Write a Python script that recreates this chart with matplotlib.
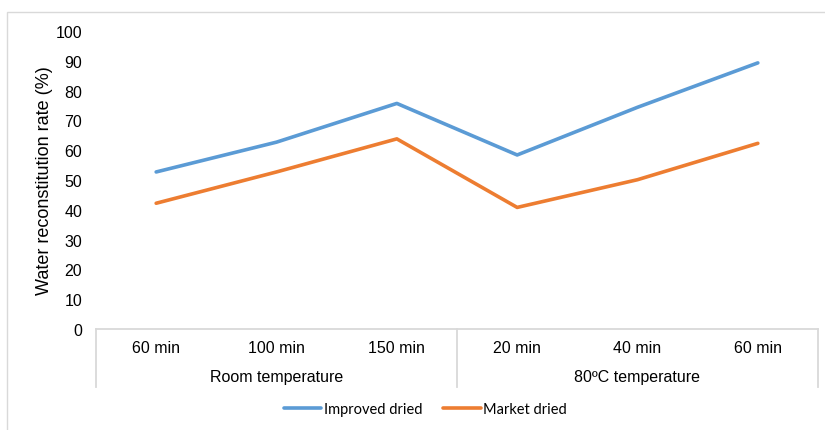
import matplotlib.pyplot as plt
import matplotlib.transforms as mtransforms
from matplotlib.patches import Rectangle

# dados
categorias = ['60 min', '100 min', '150 min', '20 min', '40 min', '60 min']
grupos = ['Room temperature', '80ºC temperature']
tam_grupo = [3, 3]
improved = [52.7, 62.7, 75.7, 58.4, 74.4, 89.3]
market = [42.2, 52.7, 63.8, 40.8, 50.1, 62.3]

plt.rcParams['font.family'] = ['Liberation Sans', 'DejaVu Sans']

fig = plt.figure(figsize=(8.25, 4.31), dpi=100)
W, H = 825, 431
ax = fig.add_axes([96 / W, 1 - 330 / H, (818 - 96) / W, (330 - 32) / H])

x = list(range(len(categorias)))
ax.plot(x, improved, color='#5B9BD5', linewidth=2.6, label='Improved dried',
        solid_capstyle='round', solid_joinstyle='round')
ax.plot(x, market, color='#ED7D31', linewidth=2.6, label='Market dried',
        solid_capstyle='round', solid_joinstyle='round')

ax.set_xlim(-0.5, len(categorias) - 0.5)
ax.set_ylim(0, 100)
ax.set_yticks(range(0, 101, 10))
ax.tick_params(axis='y', length=0, pad=10, labelsize=11.5)
ax.set_xticks([])
for s in ['top', 'right', 'left']:
    ax.spines[s].set_visible(False)
ax.spines['bottom'].set_color('#d9d9d9')
ax.spines['bottom'].set_linewidth(1.3)

ax.set_ylabel('Water reconstitution rate (%)', fontsize=13, labelpad=2)

# eixo de categorias em dois niveis
trans = mtransforms.blended_transform_factory(ax.transData, ax.transAxes)
desce = 58 / (330 - 32)
for i, c in enumerate(categorias):
    ax.text(i, -19 / (330 - 32), c, transform=trans, ha='center', va='center', fontsize=11.5)

inicio = -0.5
bordas = [inicio]
for g, n in zip(grupos, tam_grupo):
    ax.text(inicio + n / 2, -48 / (330 - 32), g, transform=trans, ha='center', va='center',
            fontsize=11.5)
    inicio += n
    bordas.append(inicio)
for b in bordas:
    ax.plot([b, b], [0, -desce], transform=trans, color='#d9d9d9', linewidth=1.3, clip_on=False)

fig.legend(loc='center', bbox_to_anchor=(425 / W, 1 - 410 / H), ncol=2, frameon=False,
           prop={'family': 'Lato', 'size': 10.5}, handlelength=2.6, handletextpad=0.15,
           columnspacing=1.4)

# borda externa
fig.patches.append(Rectangle((7 / W, -0.1), 1.1, 1 - 13 / H + 0.1, transform=fig.transFigure,
                             fill=False, edgecolor='#d9d9d9', linewidth=1.0))

fig.savefig('out.png', dpi=100)
